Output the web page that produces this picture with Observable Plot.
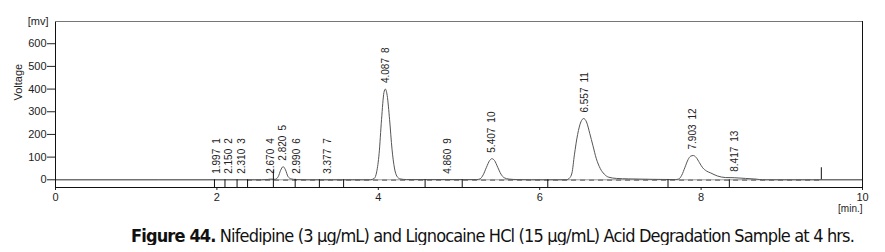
<!DOCTYPE html>
<html>
<head>
<meta charset="utf-8">
<script src="https://cdn.jsdelivr.net/npm/d3@7"></script>
<script src="https://cdn.jsdelivr.net/npm/@observablehq/plot@0.6"></script>
<style>
  body { margin: 0; background: #fff; }
  #chart { width: 885px; }
  #chart svg text { font-family: "Liberation Sans", Arial, sans-serif; }
  #caption {
    width: 885px; text-align: center; margin-top: 12px; padding-left: 100px; box-sizing: border-box;
    font-family: "DejaVu Sans Condensed", "DejaVu Sans", sans-serif;
    font-stretch: condensed; white-space: nowrap;
    font-size: 18px; line-height: 18px; letter-spacing: -0.85px; color: #111;
  }
</style>
</head>
<body>
<div id="chart"></div>
<div id="caption"><b>Figure 44.</b> Nifedipine (3 µg/mL) and Lignocaine HCl (15 µg/mL) Acid Degradation Sample at 4 hrs.</div>
<script>
// Chromatogram trace (time in min, signal in mV)
const time = [0, 2.55, 2.62, 2.67, 2.72, 2.76, 2.79, 2.82, 2.85, 2.88, 2.92, 2.98, 3.1,
  3.9, 3.95, 3.98, 4.01, 4.04, 4.07, 4.087, 4.11, 4.14, 4.17, 4.20, 4.23, 4.27, 4.35,
  5.22, 5.26, 5.30, 5.34, 5.38, 5.407, 5.44, 5.48, 5.52, 5.56, 5.62, 5.72, 5.9,
  6.33, 6.37, 6.40, 6.43, 6.47, 6.51, 6.545, 6.58, 6.62, 6.66, 6.70, 6.75, 6.80, 6.85, 6.95, 7.1, 7.4, 7.68,
  7.72, 7.76, 7.80, 7.84, 7.87, 7.903, 7.94, 7.98, 8.02, 8.07, 8.12, 8.2, 8.3, 8.417, 8.55, 8.68, 8.76, 10];
const voltage = [0, 0, 1, 3, 2, 14, 42, 58, 44, 15, 4, 1, 0,
  0, 6, 35, 115, 265, 385, 400, 372, 265, 135, 52, 16, 4, 1,
  1, 4, 22, 55, 85, 93, 85, 55, 25, 9, 3, 1, 0,
  0, 8, 30, 110, 200, 255, 270, 255, 205, 150, 95, 50, 25, 12, 6, 4, 2, 1,
  3, 20, 55, 90, 104, 107, 98, 75, 53, 38, 30, 17, 10, 9, 6, 3, 0, 0];

// Peak table: retention time, peak number, peak height (mV)
const peakTime = [1.997, 2.150, 2.310, 2.670, 2.820, 2.990, 3.377, 4.087, 4.860, 5.407, 6.557, 7.903, 8.417];
const peakNo = [1, 2, 3, 4, 5, 6, 7, 8, 9, 10, 11, 12, 13];
const peakHeight = [0, 0, 0, 0, 58, 0, 0, 400, 0, 93, 270, 107, 9];

// Integration markers: time and top of the marker (mV)
const markTime = [1.97, 2.10, 2.25, 2.38, 2.70, 2.97, 3.27, 3.57, 4.58, 5.04, 6.10, 7.59, 8.35];
const markTop = [0, 0, 0, 0, 40, 2, 0, 0, 0, 0, 0, 0, 0];
const endMarkTime = [9.49];
const endMarkTop = [53];

// Dashed baseline
const baselineStart = 2.38, baselineEnd = 9.49, baselineLevel = -1.5;

const yTicks = [0, 100, 200, 300, 400, 500, 600];
const xTicks = [0, 2, 4, 6, 8, 10];

const trace = time.map((t, i) => ({t, v: voltage[i]}));
const peaks = peakTime.map((t, i) => ({t, h: peakHeight[i], label: t.toFixed(3) + "\u2002" + peakNo[i]}));
const marks = markTime.map((t, i) => ({t, top: markTop[i]}));
const endMarks = endMarkTime.map((t, i) => ({t, top: endMarkTop[i]}));

const yMin = -34, yMax = 698;
const font = "Liberation Sans, Arial, sans-serif";

const chart = Plot.plot({
  width: 885,
  height: 215,
  marginLeft: 55,
  marginRight: 23,
  marginTop: 21,
  marginBottom: 28,
  style: {fontFamily: font, fontSize: "11px", color: "#222", background: "#fff"},
  x: {domain: [0, 10]},
  y: {domain: [yMin, yMax]},
  marks: [
    Plot.ruleY([0], {stroke: "#999"}),
    Plot.ruleY([baselineLevel], {x1: baselineStart, x2: baselineEnd, stroke: "#555", strokeDasharray: "5,4"}),
    Plot.line(trace, {x: "t", y: "v", stroke: "#555", strokeWidth: 1, curve: "monotone-x"}),
    Plot.ruleX(marks, {x: "t", y1: "top", y2: yMin, stroke: "#111"}),
    Plot.ruleX(endMarks, {x: "t", y1: 0, y2: "top", stroke: "#111"}),
    Plot.text(peaks, {x: "t", y: "h", text: "label", rotate: -90, textAnchor: "start", dy: -6, fontSize: 10, fill: "#222"}),
    Plot.axisY(yTicks, {tickSize: 8, tickPadding: 1, label: null, fontSize: 11, stroke: "#222"}),
    Plot.axisX(xTicks, {tickSize: 3, tickPadding: 3, label: null, fontSize: 11}),
    Plot.frame({stroke: "#111"}),
    Plot.ruleY([yMax], {stroke: "#777"}),
    Plot.text(["[mv]"], {frameAnchor: "top-left", textAnchor: "end", dx: -7, dy: -4, fontSize: 11, fill: "#222"}),
    Plot.text(["Voltage"], {frameAnchor: "left", rotate: -90, dx: -37, dy: -4, fontSize: 11, fill: "#222"}),
    Plot.text(["[min.]"], {frameAnchor: "bottom-right", dy: 24, fontSize: 10, fill: "#222"})
  ]
});
document.getElementById("chart").append(chart);
</script>
</body>
</html>
